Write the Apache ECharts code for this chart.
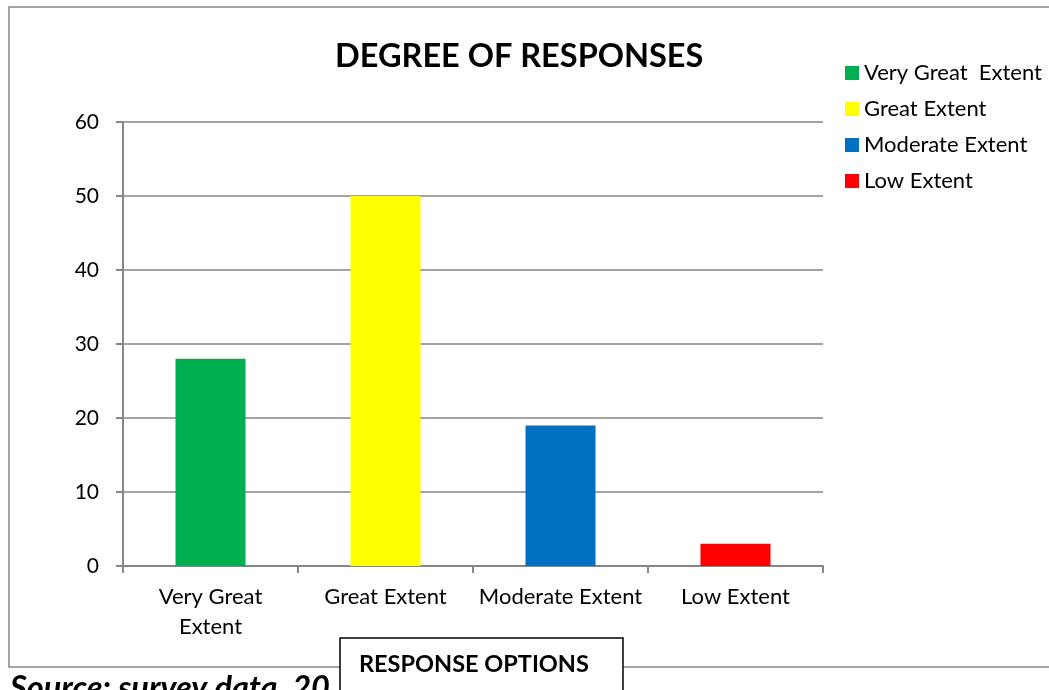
<!DOCTYPE html>
<html>
<head>
<meta charset="utf-8">
<script src="https://cdn.jsdelivr.net/npm/echarts@6/dist/echarts.min.js"></script>
<style>
    html, body { margin: 0; padding: 0; background: #fff; }
    #chart { width: 1049px; height: 690px; }
</style>
</head>
<body>
<div id="chart"></div>
<script>
var categories = ['Very Great\nExtent', 'Great Extent', 'Moderate Extent', 'Low Extent'];
var seriesNames = ['Very Great  Extent', 'Great Extent', 'Moderate Extent', 'Low Extent'];
var values = [28, 50, 19, 3];
var colors = ['#00B050', '#FFFF00', '#0070C0', '#FF0000'];
var yTicks = { min: 0, max: 60, interval: 10 };

var font = 'Lato, "Liberation Sans", sans-serif';
var gray = '#868686';

// one series per option so that each gets its own legend entry
var series = [];
for (var i = 0; i < seriesNames.length; i++) {
    var d = [];
    for (var j = 0; j < categories.length; j++) {
        d.push(j == i ? values[i] : '-');
    }
    series.push({
        name: seriesNames[i],
        type: 'bar',
        stack: 'all',
        barWidth: '40%',
        itemStyle: { color: colors[i] },
        data: d
    });
}

var chart = echarts.init(document.getElementById('chart'));
var option = {
    animation: false,
    color: colors,
    title: {
        text: 'DEGREE OF RESPONSES',
        left: 335,
        top: 40,
        padding: 0,
        textStyle: { fontFamily: font, fontSize: 32.5, fontWeight: 'bold', color: '#000' }
    },
    legend: {
        orient: 'vertical',
        left: 840,
        top: 57,
        icon: 'rect',
        itemWidth: 14,
        itemHeight: 14,
        itemGap: 14,
        data: seriesNames,
        textStyle: { fontFamily: font, fontSize: 22, color: '#000' }
    },
    grid: { left: 123, top: 122, width: 700, height: 444, containLabel: false },
    xAxis: {
        type: 'category',
        data: categories,
        axisLine: { lineStyle: { color: gray, width: 2 } },
        axisTick: { show: true, interval: 0, length: 7, lineStyle: { color: gray, width: 2 } },
        axisLabel: { interval: 0, fontFamily: font, fontSize: 22, color: '#000', margin: 16, lineHeight: 30 }
    },
    yAxis: {
        type: 'value',
        min: yTicks.min,
        max: yTicks.max,
        interval: yTicks.interval,
        axisLine: { show: true, lineStyle: { color: gray, width: 2 } },
        axisTick: { show: true, length: 7, lineStyle: { color: gray, width: 2 } },
        splitLine: { lineStyle: { color: gray, width: 1.5 } },
        axisLabel: { fontFamily: font, fontSize: 21, color: '#000', margin: 24 }
    },
    graphic: [
        {
            type: 'rect',
            shape: { x: 9, y: 7, width: 1060, height: 660 },
            style: { fill: 'none', stroke: gray, lineWidth: 1.5 },
            z: -10
        },
        {
            type: 'text',
            x: 10,
            y: 672,
            style: {
                text: 'Source: survey data, 20',
                fontFamily: font, fontSize: 32.5, fontWeight: 'bold', fontStyle: 'italic',
                fill: '#000'
            },
            z: 1
        },
        {
            type: 'rect',
            shape: { x: 340, y: 638, width: 283, height: 70 },
            style: { fill: '#fff', stroke: '#000', lineWidth: 1.5 },
            z: 5
        },
        {
            type: 'text',
            x: 359,
            y: 652,
            style: {
                text: 'RESPONSE OPTIONS',
                fontFamily: font, fontSize: 23.5, fontWeight: 'bold', fill: '#000'
            },
            z: 6
        }
    ],
    series: series
};
chart.setOption(option);
</script>
</body>
</html>
